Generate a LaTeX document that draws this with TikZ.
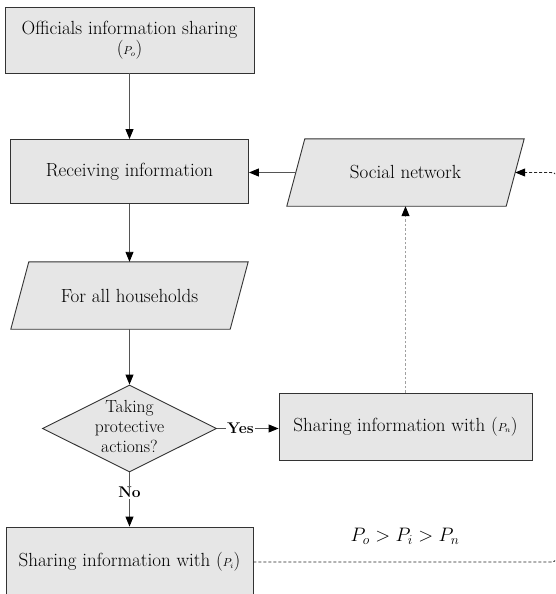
\RequirePackage{fix-cm}
\documentclass[tikz,border=0pt]{standalone}
\usetikzlibrary{shapes.geometric,arrows.meta,backgrounds}
\definecolor{boxfill}{HTML}{E6E6E6}
\definecolor{boxline}{HTML}{333333}
\definecolor{connline}{HTML}{555555}
\definecolor{dashgray}{HTML}{A0A0A0}
\newcommand\nfont{\fontsize{19}{22}\selectfont}
\newcommand\dfont{\fontsize{17.5}{20}\selectfont}
\newcommand\pfont{\fontsize{11.5}{12}\selectfont}
\begin{document}
\begin{tikzpicture}[x=1pt,y=-1pt,
  >={Triangle[length=10pt,width=8pt,black]},
  box/.style={draw=boxline, fill=boxfill, line width=0.9pt, minimum height=67pt, inner sep=0pt, font=\nfont},
  para/.style={minimum width=219pt, minimum height=67pt, inner sep=0pt, font=\nfont},
  diam/.style={diamond, draw=boxline, fill=boxfill, line width=0.9pt, minimum width=174pt, minimum height=87pt, inner sep=0pt, aspect=2},
  conn/.style={draw=connline, line width=0.9pt, ->},
  gdash/.style={draw=dashgray, line width=1.1pt, dash pattern=on 2.5pt off 2pt, ->},
  kdash/.style={draw=black!85, line width=0.9pt, dash pattern=on 3pt off 2pt, ->},
  lbl/.style={fill=white, inner sep=1.5pt, font=\fontsize{15.5}{17}\selectfont\bfseries}]
\useasboundingbox (0,0) rectangle (555,594);
\clip (0,0) rectangle (555,594);
\node[box, minimum width=249pt, minimum height=66pt, align=center] (ois) at (129.5,40) {Officials information sharing\\[-2pt]({\pfont$P_{o}$})};
\node[box, minimum width=238pt, minimum height=64pt] (ri) at (129.5,171.5) {Receiving information};
\node[para] (fah) at (129.5,295.5) {For all households};
\node[diam] (dec) at (129.5,428.5) {};
\node[font=\dfont, align=center] (dect) at (129.5,426.5) {Taking\\protective\\actions?};
\node[para] (sn) at (405.5,172.5) {Social network};
\node[box, minimum width=253pt] (pn) at (405.5,426.5) {Sharing information with ({\pfont$P_{n}$})};
\node[box, minimum width=247pt, minimum height=70pt] (pi) at (129.5,562) {Sharing information with ({\pfont$P_{i}$})};
\node[font=\fontsize{19.5}{22}\selectfont] (ineq) at (405,536) {$P_o > P_i > P_n$};
\begin{scope}[on background layer]
\fill[white] (0,0) rectangle (555,594);
\foreach \n in {fah,sn}
  \draw[draw=boxline, fill=boxfill, line width=0.9pt]
    ([xshift=9pt]\n.north west) -- ([xshift=9pt]\n.north east) --
    ([xshift=-9pt]\n.south east) -- ([xshift=-9pt]\n.south west) -- cycle;
\end{scope}
\draw[conn] (ois.south) -- (ri.north);
\draw[conn] (sn.west) -- (sn.west -| ri.east);
\draw[conn] (ri.south) -- (fah.north);
\draw[conn] (fah.south) -- (dec.north);
\draw[conn] (dec.east) -- node[pos=.38, lbl] {Yes} (dec.east -| pn.west);
\draw[conn] (dec.south) -- node[pos=.37, lbl] {No} (dec.south |- pi.north);
\draw[gdash] (pn.north) -- (sn.south);
\coordinate (cr1) at (559,562);
\coordinate (cr2) at (559,172.5);
\draw[kdash, rounded corners=8pt] (pi.east) -- (cr1) -- (cr2) -- (sn.east);
\end{tikzpicture}
\end{document}
